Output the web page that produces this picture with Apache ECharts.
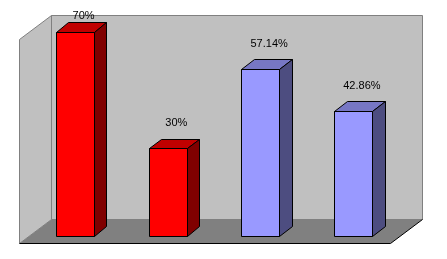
<!DOCTYPE html>
<html>
<head>
<meta charset="utf-8">
<script src="https://cdn.jsdelivr.net/npm/echarts@6/dist/echarts.min.js"></script>
<style>
html,body{margin:0;padding:0;background:#fff;}
#chart{width:447px;height:259px;}
</style>
</head>
<body>
<div id="chart"></div>
<script>
// ---- data ----
const categories = ['1', '2', '3', '4'];
const values = [70, 30, 57.14, 42.86];
const valueLabels = ['70%', '30%', '57.14%', '42.86%'];
const groups = ['A', 'A', 'B', 'B'];
const axisMin = 0;
const axisMax = 70;

// ---- styles ----
const palette = {
  A: { front: '#ff0000', top: '#c00000', side: '#800000' },
  B: { front: '#9999ff', top: '#7777c4', side: '#4d4d80' }
};
const BOX_DX = 32, BOX_DY = 24;      // wall box depth
const FRONT_T = 0.3;                  // bar front plane position in depth
const BAR_DX = 12.5, BAR_DY = 9.5;    // bar depth

function r(v) { return Math.round(v - 0.5) + 0.5; }
function pts(arr) { return arr.map(p => [r(p[0]), r(p[1])]); }

const chart = echarts.init(document.getElementById('chart'), null, { renderer: 'canvas' });

function renderWalls(params, api) {
  const cs = params.coordSys;
  // front plane of box
  const fx = -BOX_DX * FRONT_T, fy = BOX_DY * (1 - FRONT_T) - BOX_DY * 0; // shift toward viewer
  const shiftF = [-BOX_DX * FRONT_T, BOX_DY * FRONT_T];
  const shiftB = [BOX_DX * (1 - FRONT_T), -BOX_DY * (1 - FRONT_T)];
  const L = cs.x, R = cs.x + cs.width, T = cs.y, B = cs.y + cs.height;
  const fl = [L + shiftF[0], B + shiftF[1]];
  const fr = [R + shiftF[0], B + shiftF[1]];
  const flt = [L + shiftF[0], T + shiftF[1]];
  const bl = [L + shiftB[0], B + shiftB[1]];
  const br = [R + shiftB[0], B + shiftB[1]];
  const blt = [L + shiftB[0], T + shiftB[1]];
  const brt = [R + shiftB[0], T + shiftB[1]];
  const grey = '#808080';
  return {
    type: 'group',
    children: [
      { type: 'polygon', shape: { points: pts([blt, brt, br, bl]) },
        style: { fill: '#c0c0c0', stroke: grey, lineWidth: 1 } },
      { type: 'polygon', shape: { points: pts([flt, blt, bl, fl]) },
        style: { fill: '#c0c0c0', stroke: grey, lineWidth: 1 } },
      { type: 'polygon', shape: { points: pts([fl, bl, br, fr]) },
        style: { fill: '#808080', stroke: null } },
      { type: 'polyline', shape: { points: pts([fl, fr, br]) },
        style: { fill: null, stroke: '#000', lineWidth: 1 } }
    ]
  };
}

function renderBar(params, api) {
  const ci = api.value(0);
  const v = api.value(1);
  const idx = params.dataIndex;
  const c = palette[groups[idx]];
  const p0 = api.coord([ci, 0]);
  const p1 = api.coord([ci, v]);
  const bw = api.size([1, 0])[0] * 0.41;
  const x1 = p0[0] - bw / 2, x2 = p0[0] + bw / 2;
  const yb = p0[1], yt = p1[1];
  const st = { stroke: '#000', lineWidth: 1 };
  const labelY = Math.max(yt - BAR_DY - 16, 16);
  return {
    type: 'group',
    children: [
      { type: 'polygon', shape: { points: pts([[x1, yt], [x2, yt], [x2, yb], [x1, yb]]) },
        style: Object.assign({ fill: c.front }, st) },
      { type: 'polygon', shape: { points: pts([[x1, yt], [x2, yt], [x2 + BAR_DX, yt - BAR_DY], [x1 + BAR_DX, yt - BAR_DY]]) },
        style: Object.assign({ fill: c.top }, st) },
      { type: 'polygon', shape: { points: pts([[x2, yt], [x2 + BAR_DX, yt - BAR_DY], [x2 + BAR_DX, yb - BAR_DY], [x2, yb]]) },
        style: Object.assign({ fill: c.side }, st) },
      { type: 'text', x: p0[0] + BAR_DX / 2 + 2, y: labelY,
        style: { text: valueLabels[idx], fill: '#000', font: '11px "Liberation Sans", Arial, sans-serif',
                 align: 'center', verticalAlign: 'middle' } }
    ]
  };
}

chart.setOption({
  animation: false,
  grid: { left: 29, width: 371, top: 32, height: 204 },
  xAxis: { type: 'category', data: categories, show: false, boundaryGap: true },
  yAxis: { type: 'value', min: axisMin, max: axisMax, show: false },
  series: [
    { type: 'custom', renderItem: renderWalls, data: [[0, 0]], z: 1, silent: true, clip: false },
    { type: 'custom', renderItem: renderBar, data: values.map((v, i) => [i, v]), z: 2, clip: false }
  ]
});
</script>
</body>
</html>
